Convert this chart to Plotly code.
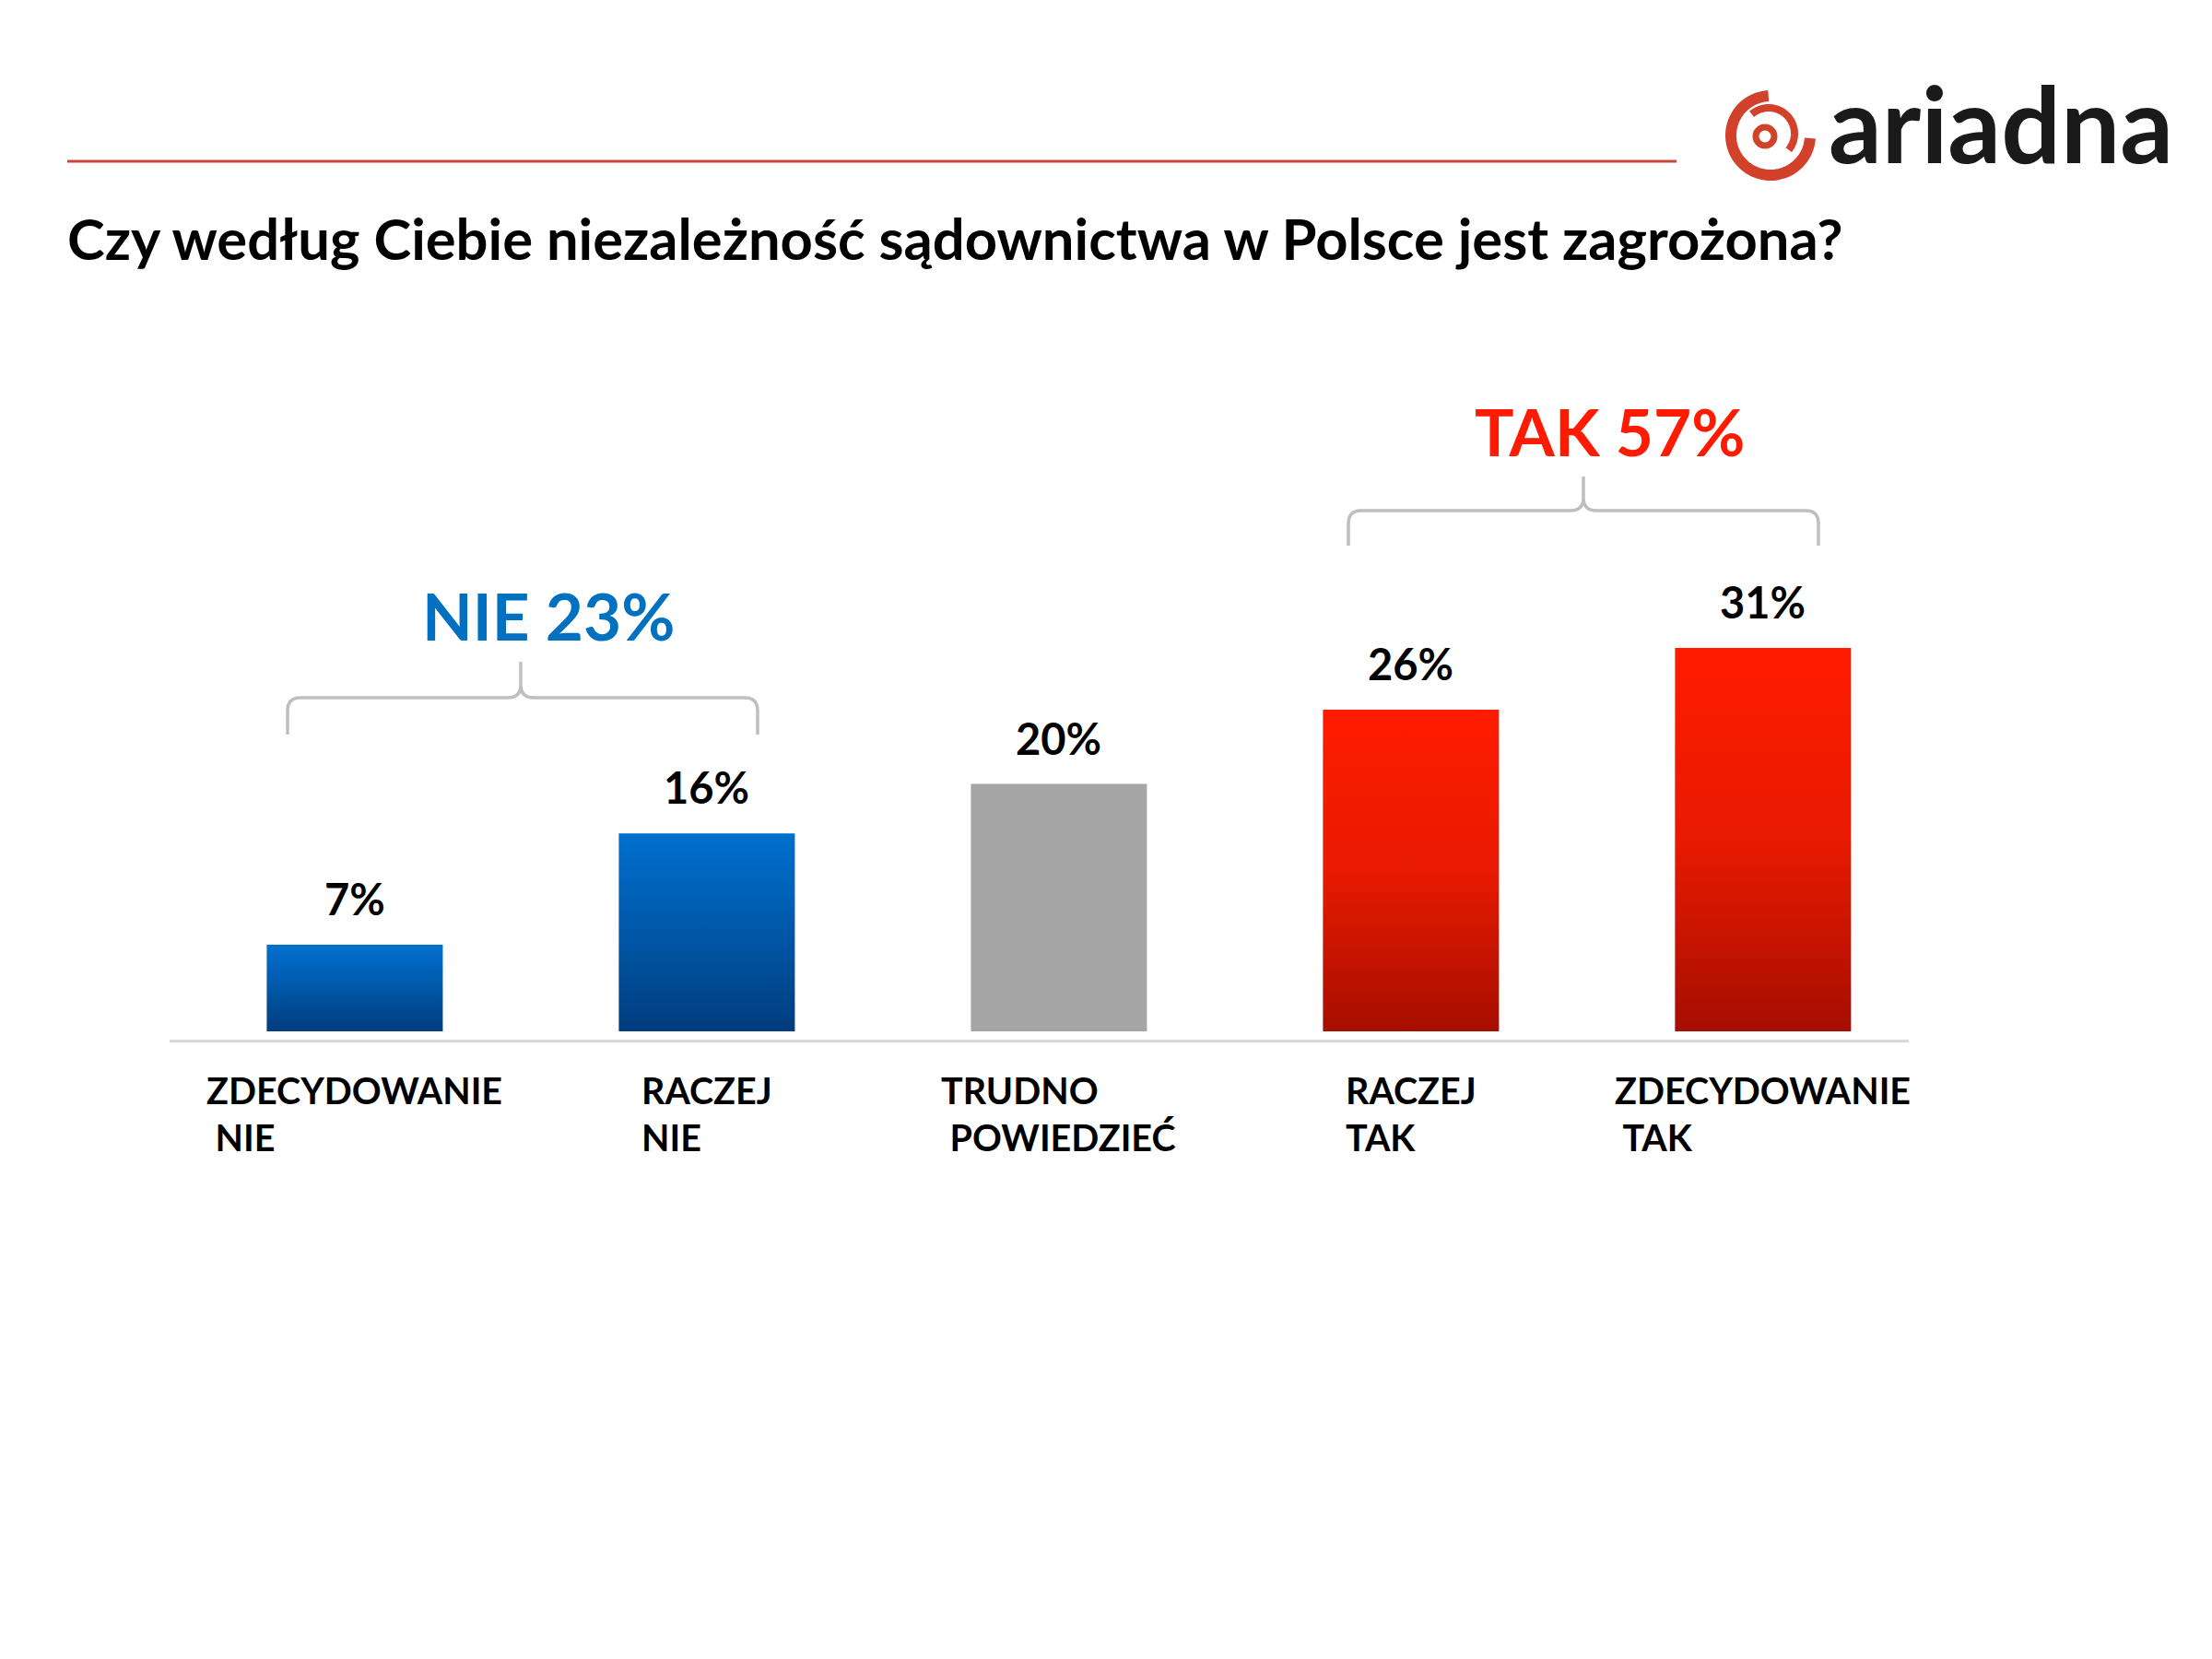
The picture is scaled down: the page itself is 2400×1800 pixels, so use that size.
import math
import plotly.graph_objects as go

# data
categories = ["ZDECYDOWANIE<br>\u00a0NIE", "RACZEJ<br>NIE", "TRUDNO<br>\u00a0POWIEDZIEĆ",
              "RACZEJ<br>TAK", "ZDECYDOWANIE<br>\u00a0TAK"]
values = [7, 16, 20, 26, 31]
value_labels = ["7%", "16%", "20%", "26%", "31%"]
group_labels = ["NIE 23%", "TAK 57%"]
title_text = "Czy według Ciebie niezależność sądownictwa w Polsce jest zagrożona?"

BLUE = [[0, "#003d7e"], [0.5, "#0057a8"], [1, "#0070cf"]]
GRAY = [[0, "#a6a6a6"], [1, "#a6a6a6"]]
RED = [[0, "#a60e00"], [0.5, "#e81a00"], [1, "#ff1c00"]]
bar_gradients = [BLUE, BLUE, GRAY, RED, RED]

FONT = "Lato"
W, H = 2400, 1800
# plot area in pixels of the reference picture
L, R, T, B = 184, 2071, 200, 1128
PAGE_OFFSET = 8  # default body margin of the html page
HALF = 0.25


def px(x):
    return (x - L) / (R - L)


def py(y):
    return (B - y) / (B - T)


def brace(x0, x1, xc, yh, yb, yt, r=14):
    return (f"M {px(x0)},{py(yb)} L {px(x0)},{py(yh + r)} "
            f"Q {px(x0)},{py(yh)} {px(x0 + r)},{py(yh)} L {px(xc - r)},{py(yh)} "
            f"Q {px(xc)},{py(yh)} {px(xc)},{py(yh - r)} L {px(xc)},{py(yt)} "
            f"M {px(xc)},{py(yh - r)} Q {px(xc)},{py(yh)} {px(xc + r)},{py(yh)} "
            f"L {px(x1 - r)},{py(yh)} Q {px(x1)},{py(yh)} {px(x1)},{py(yh + r)} "
            f"L {px(x1)},{py(yb)}")


def arc(cx, cy, r, a0, a1, n=80):
    pts = []
    for k in range(n + 1):
        a = math.radians(a0 + (a1 - a0) * k / n)
        pts.append((px(cx + r * math.cos(a)), py(cy - r * math.sin(a))))
    return "M " + " L ".join(f"{x},{y}" for x, y in pts)


fig = go.Figure()

for i, (v, grad) in enumerate(zip(values, bar_gradients)):
    fig.add_trace(go.Scatter(
        x=[i - HALF, i + HALF, i + HALF, i - HALF, i - HALF],
        y=[0, 0, v, v, 0],
        mode="lines", line=dict(width=0),
        fill="toself",
        fillgradient=dict(type="vertical", colorscale=grad),
        hoverinfo="skip", showlegend=False,
    ))

annotations = []
for i, (v, lab) in enumerate(zip(values, value_labels)):
    annotations.append(dict(x=i, y=v, xref="x", yref="y", text=f"<b>{lab}</b>",
                            showarrow=False, xanchor="center", yanchor="middle", yshift=50,
                            font=dict(family=FONT, size=47, color="#000000")))

for i, cat in enumerate(categories):
    annotations.append(dict(x=i, y=py(1157), xref="x", yref="paper", text=f"<b>{cat}</b>",
                            showarrow=False, xanchor="center", yanchor="top", align="left",
                            font=dict(family=FONT, size=39.5, color="#000000")))

annotations.append(dict(x=px(595), y=py(667), xref="paper", yref="paper",
                        text=f"<b>{group_labels[0]}</b>", showarrow=False,
                        xanchor="center", yanchor="middle",
                        font=dict(family=FONT, size=71, color="#0070c0")))
annotations.append(dict(x=px(1746), y=py(467), xref="paper", yref="paper",
                        text=f"<b>{group_labels[1]}</b>", showarrow=False,
                        xanchor="center", yanchor="middle",
                        font=dict(family=FONT, size=71, color="#ff1a00")))

annotations.append(dict(x=px(71), y=py(258), xref="paper", yref="paper",
                        text=f"<b>{title_text}</b>", showarrow=False,
                        xanchor="left", yanchor="middle",
                        font=dict(family=FONT, size=61.5, color="#000000")))

annotations.append(dict(x=px(1982), y=py(62), xref="paper", yref="paper",
                        text="<b>ariadna</b>", showarrow=False,
                        xanchor="left", yanchor="top",
                        font=dict(family=FONT, size=114, color="#1a1a1a")))

LOGO = "#d2412a"
BRACE = "#bfbfbf"
shapes = [
    dict(type="line", xref="paper", yref="paper", x0=px(73), x1=px(1819),
         y0=py(175), y1=py(175), line=dict(color="#c8473a", width=3)),
    dict(type="path", xref="paper", yref="paper",
         path=brace(312, 822, 565, 757, 797, 718), line=dict(color=BRACE, width=3.5)),
    dict(type="path", xref="paper", yref="paper",
         path=brace(1463, 1973, 1718, 554, 592, 517), line=dict(color=BRACE, width=3.5)),
    dict(type="path", xref="paper", yref="paper",
         path=arc(1921, 147, 43, 93, 356), line=dict(color=LOGO, width=12)),
    dict(type="path", xref="paper", yref="paper",
         path=arc(1919, 145, 28, 131, -39), line=dict(color=LOGO, width=8)),
    dict(type="circle", xref="paper", yref="paper",
         x0=px(1905), x1=px(1925), y0=py(158), y1=py(138),
         line=dict(color=LOGO, width=7)),
]

fig.update_layout(
    width=W, height=H,
    margin=dict(l=L - PAGE_OFFSET, r=W - R + PAGE_OFFSET,
                t=T - PAGE_OFFSET, b=H - B + PAGE_OFFSET),
    paper_bgcolor="white", plot_bgcolor="white",
    showlegend=False,
    xaxis=dict(range=[-0.526, 4.414], showticklabels=False, showgrid=False,
               zeroline=False, showline=True, linecolor="#d9d9d9", linewidth=3,
               fixedrange=True),
    yaxis=dict(range=[-0.67, -0.67 + (B - T) / 13.42], visible=False, fixedrange=True),
    annotations=annotations,
    shapes=shapes,
)

fig.write_html("out.html")
